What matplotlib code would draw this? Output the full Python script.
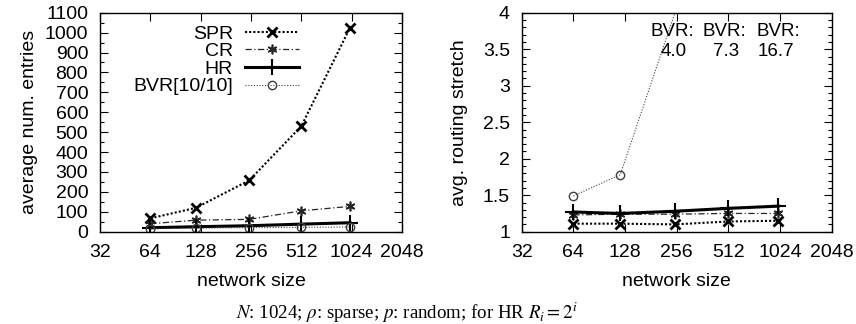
import matplotlib.pyplot as plt
from matplotlib.ticker import FixedLocator, MultipleLocator, NullLocator

plt.rcParams['font.family'] = ['Liberation Sans', 'DejaVu Sans']
plt.rcParams['mathtext.fontset'] = 'stix'

sizes = [64, 120, 250, 512, 1000]
xticks = [32, 64, 128, 256, 512, 1024, 2048]

# left: average number of routing table entries
spr_entries = [67, 120, 258, 530, 1024]
cr_entries = [40, 58, 62, 105, 127]
hr_entries = [20, 25, 30, 38, 45]
bvr_entries = [16, 18, 20, 22, 24]

# right: average routing stretch
spr_stretch = [1.11, 1.11, 1.10, 1.14, 1.15]
cr_stretch = [1.23, 1.24, 1.24, 1.25, 1.25]
hr_stretch = [1.27, 1.25, 1.28, 1.32, 1.35]
bvr_stretch = [1.49, 1.78, 4.0, 7.3, 16.7]

W, H = 856, 324
fig = plt.figure(figsize=(W / 100, H / 100), dpi=100)
ax1 = fig.add_axes([100 / W, (H - 231.7) / H, 302 / W, 219 / H])
ax2 = fig.add_axes([521.7 / W, (H - 231.7) / H, 310 / W, 219 / H])

styles = {
    'SPR': dict(ls=(0, (1, 1)), lw=1.5, marker='x', ms=7, mew=2, color='black'),
    'CR': dict(ls=(0, (5, 2, 1, 2)), lw=0.9, marker=(6, 2, 0), ms=7, mew=1.2, color='0.15'),
    'HR': dict(ls='-', lw=2.2, marker='+', ms=11, mew=1.5, color='black'),
    'BVR[10/10]': dict(ls=(0, (1, 1.5)), lw=0.8, marker='o', ms=6, mew=1, mfc='none', color='0.25'),
}

ax1.plot(sizes, spr_entries, label='SPR', **styles['SPR'])
ax1.plot(sizes, cr_entries, label='CR', **styles['CR'])
ax1.plot(sizes, hr_entries, label='HR', **styles['HR'])
ax1.plot(sizes, bvr_entries, label='BVR[10/10]', **styles['BVR[10/10]'])

ax2.plot(sizes, spr_stretch, **styles['SPR'])
ax2.plot(sizes, cr_stretch, **styles['CR'])
ax2.plot(sizes, hr_stretch, **styles['HR'])
ax2.plot(sizes, bvr_stretch, markevery=[0, 1], **styles['BVR[10/10]'])

for ax in (ax1, ax2):
    ax.set_xscale('log', base=2)
    ax.set_xlim(32, 2048)
    ax.xaxis.set_major_locator(FixedLocator(xticks))
    ax.xaxis.set_minor_locator(NullLocator())
    ax.set_xticklabels([str(t) for t in xticks])
    ax.tick_params(which='both', direction='in', top=True, right=True, labelsize=14, width=0.8)
    ax.tick_params(which='major', length=6)
    ax.tick_params(which='minor', length=3)
    ax.tick_params(axis='x', pad=9)
    ax.tick_params(axis='y', pad=8.5)
    ax.set_xlabel('network size', fontsize=14)
    ax.xaxis.set_label_coords(0.5, -0.19)
    for s in ax.spines.values():
        s.set_linewidth(1.0)

ax1.set_ylim(0, 1100)
ax1.yaxis.set_major_locator(MultipleLocator(100))
ax1.yaxis.set_minor_locator(MultipleLocator(50))
ax1.set_ylabel('average num. entries', fontsize=14)
ax1.yaxis.set_label_coords(-0.205, 0.5)

ax2.set_ylim(1, 4)
ax2.yaxis.set_major_locator(MultipleLocator(0.5))
ax2.yaxis.set_minor_locator(MultipleLocator(0.1))
ax2.yaxis.set_major_formatter(plt.FuncFormatter(lambda v, p: f'{v:g}'))
ax2.set_ylabel('avg. routing stretch', fontsize=14)
ax2.yaxis.set_label_coords(-0.173, 0.5)

ax1.legend(loc='upper right', bbox_to_anchor=(0.659, 0.944), markerfirst=False,
           frameon=False, fontsize=14, handlelength=2.8, labelspacing=0.0,
           borderaxespad=0, borderpad=0, handletextpad=0.6)

# off-scale BVR stretch values written in the plot
def px(x, y):
    return (x - 521.7) / 310, (231.7 - y) / 219

for cx_top, cx_val, v in zip([672.7, 724.5, 778.8], [673.3, 725.8, 775.8], bvr_stretch[2:]):
    ax2.text(*px(cx_top, 31.5), 'BVR:', transform=ax2.transAxes, ha='center', va='center', fontsize=13.5)
    ax2.text(*px(cx_val, 52), f'{v:.1f}', transform=ax2.transAxes, ha='center', va='center', fontsize=13.5)

fig.text(407 / W, 1 - 313 / H, r'$N$: 1024; $\rho$: sparse; $p$: random; for HR $R_i = 2^i$',
         ha='center', va='center', fontsize=13.6, family='Liberation Serif')

fig.savefig('out.png', dpi=100)
